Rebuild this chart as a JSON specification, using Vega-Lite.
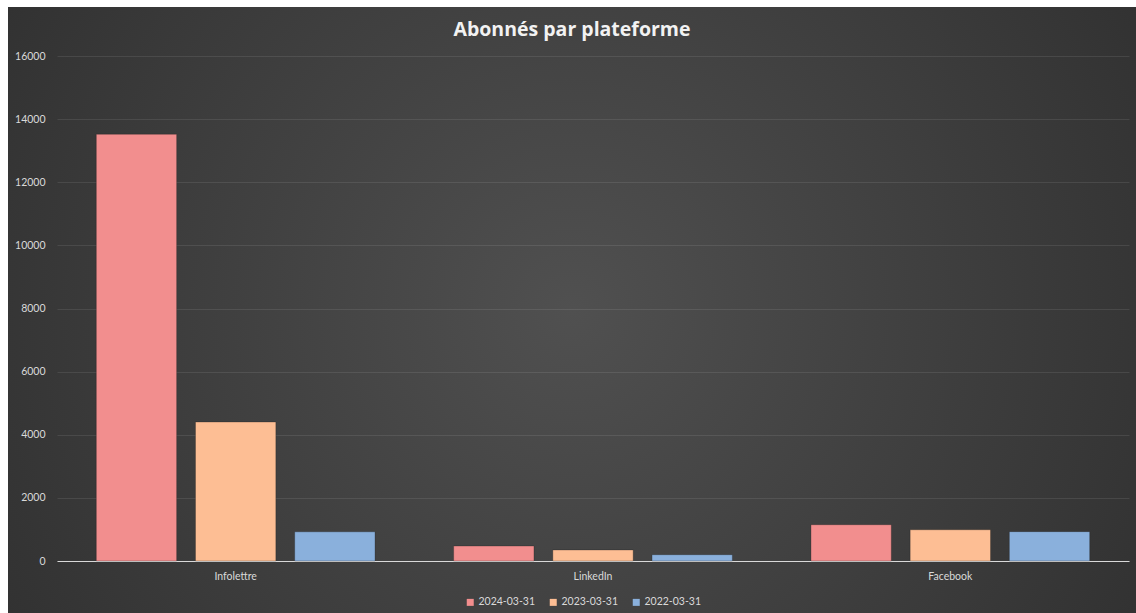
{
  "$schema": "https://vega.github.io/schema/vega-lite/v6.json",
  "width": 1128,
  "height": 606,
  "autosize": {"type": "none"},
  "padding": {"left": 8, "top": 7, "right": 0, "bottom": 0},
  "background": "white",
  "title": {
    "text": "Abonnés par plateforme",
    "color": "#f2f2f2",
    "font": "Open Sans",
    "fontSize": 19.5,
    "fontWeight": "bold",
    "anchor": "middle",
    "offset": -33
  },
  "config": {
    "view": {
      "stroke": null,
      "fill": {
        "gradient": "radial",
        "x1": 0.5, "y1": 0.5, "r1": 0,
        "x2": 0.5, "y2": 0.5, "r2": 0.72,
        "stops": [
          {"offset": 0, "color": "#505050"},
          {"offset": 1, "color": "#2a2a2a"}
        ]
      }
    },
    "axis": {"labelFont": "Lato", "labelColor": "#d9d9d9", "labelFontSize": 10.5}
  },
  "data": {
    "values": [
      {"platform": "Infolettre", "date": "2024-03-31", "value": 13520},
      {"platform": "Infolettre", "date": "2023-03-31", "value": 4404},
      {"platform": "Infolettre", "date": "2022-03-31", "value": 925},
      {"platform": "LinkedIn", "date": "2024-03-31", "value": 475},
      {"platform": "LinkedIn", "date": "2023-03-31", "value": 350},
      {"platform": "LinkedIn", "date": "2022-03-31", "value": 200},
      {"platform": "Facebook", "date": "2024-03-31", "value": 1150},
      {"platform": "Facebook", "date": "2023-03-31", "value": 990},
      {"platform": "Facebook", "date": "2022-03-31", "value": 930}
    ]
  },
  "mark": {"type": "bar", "stroke": "#1a1a1a", "strokeOpacity": 0.35, "strokeWidth": 0.8},
  "encoding": {
    "x": {
      "field": "platform",
      "type": "nominal",
      "sort": ["Infolettre", "LinkedIn", "Facebook"],
      "scale": {"range": [49, 1121], "paddingInner": 0.22, "paddingOuter": 0.11},
      "axis": {
        "title": null,
        "offset": -52,
        "labelAngle": 0,
        "ticks": false,
        "grid": false,
        "domainColor": "#d9d9d9",
        "domainWidth": 1,
        "labelPadding": 10
      }
    },
    "xOffset": {
      "field": "date",
      "type": "nominal",
      "sort": ["2024-03-31", "2023-03-31", "2022-03-31"],
      "scale": {"paddingInner": 0.19, "paddingOuter": 0}
    },
    "y": {
      "field": "value",
      "type": "quantitative",
      "scale": {"domain": [0, 16000], "range": [554, 49], "nice": false},
      "axis": {
        "title": null,
        "offset": -49,
        "format": "d",
        "values": [0, 2000, 4000, 6000, 8000, 10000, 12000, 14000, 16000],
        "domain": false,
        "ticks": false,
        "labelPadding": 12,
        "gridColor": "#ffffff",
        "gridOpacity": 0.09
      }
    },
    "color": {
      "field": "date",
      "type": "nominal",
      "sort": ["2024-03-31", "2023-03-31", "2022-03-31"],
      "scale": {"range": ["#f28e8e", "#fdbe94", "#8ab0dc"]},
      "legend": {
        "title": null,
        "orient": "none",
        "legendX": 457,
        "legendY": 590,
        "direction": "horizontal",
        "symbolType": "square",
        "symbolSize": 49,
        "symbolStrokeWidth": 0,
        "labelFont": "Lato",
        "labelFontSize": 10.5,
        "labelColor": "#d9d9d9",
        "labelOffset": 3,
        "columnPadding": 12
      }
    }
  }
}
